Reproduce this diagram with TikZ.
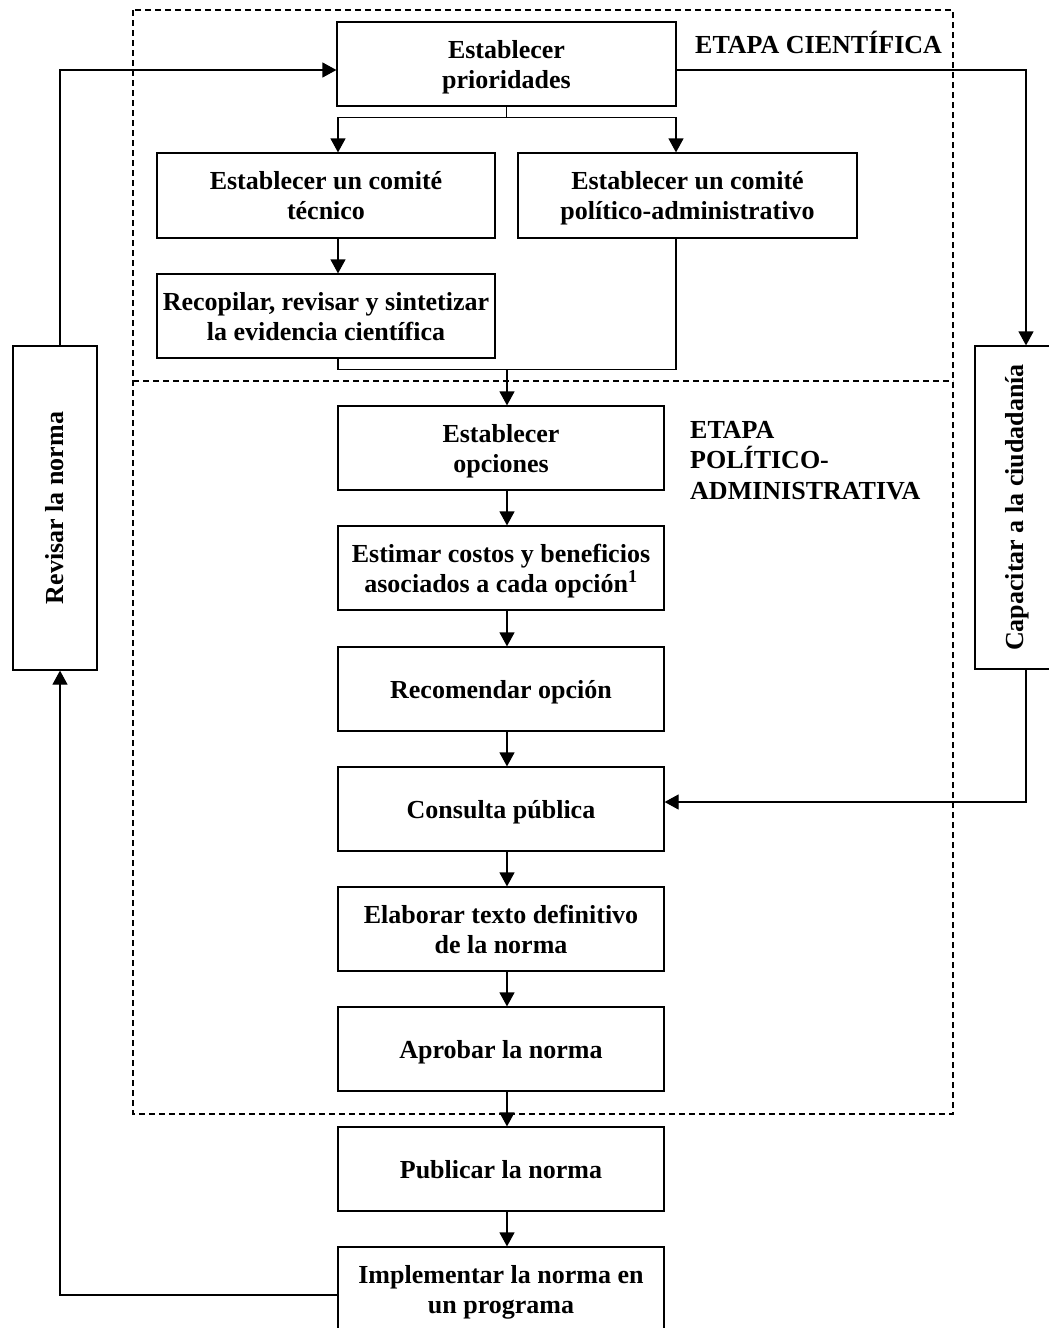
\documentclass[tikz,border=0pt]{standalone}
\usepackage{fontspec}
\setmainfont{Liberation Serif}
\usetikzlibrary{arrows.meta}
\newcommand{\hst}{\rule{0pt}{27pt}}
\newcommand{\dst}{\rule[-9pt]{0pt}{0pt}}
\begin{document}
\begin{tikzpicture}[x=1pt,y=-1pt,
  box/.style={draw, line width=1.2pt, inner sep=0pt, align=center,
    font=\fontsize{26}{30}\selectfont\bfseries},
  tbox/.style={box},
  colbox/.style={tbox, minimum width=326pt, minimum height=84pt},
  lbl/.style={inner sep=0pt, align=left, font=\fontsize{26}{30.5}\selectfont\bfseries},
  conn/.style={line width=1.2pt},
  arr/.style={conn, -{Triangle[length=14pt,width=15pt]}},
  frame/.style={line width=1.6pt, dash pattern=on 6pt off 4pt}]
\useasboundingbox (0,0) rectangle (1049,1328);
% dashed stage frames
\draw[frame] (133,10) rectangle (953,1114);
\draw[frame] (133,381) -- (953,381);
% labels
\node[lbl, anchor=base west] (tcien) at (695,53) {ETAPA CIENTÍFICA};
\node[lbl, anchor=north west] (tpol) at (690,421) {ETAPA\\POLÍTICO-\\ADMINISTRATIVA};
% top boxes
\node[tbox, minimum width=339pt, minimum height=84pt] (A) at (506.5,64) {\hst Establecer\\prioridades\dst};
\node[tbox, minimum width=338pt, minimum height=85pt] (tec) at (326,195.5) {\hst Establecer un comité\\técnico\dst};
\node[tbox, minimum width=339pt, minimum height=85pt] (pol) at (687.5,195.5) {\hst Establecer un comité\\político-administrativo\dst};
\node[tbox, minimum width=338pt, minimum height=84pt] (rec) at (326,316) {\hst Recopilar, revisar y sintetizar\\la evidencia científica\dst};
% main column
\node[colbox] (opc) at (501,448) {\hst Establecer\\opciones\dst};
\node[colbox] (est) at (501,568) {\hst Estimar costos y beneficios\\asociados a cada opción\textsuperscript{1}\dst};
\node[colbox] (recm) at (501,689) {\hst Recomendar opción\dst};
\node[colbox] (cons) at (501,809) {\hst Consulta pública\dst};
\node[colbox] (elab) at (501,929) {\hst Elaborar texto definitivo\\de la norma\dst};
\node[colbox] (apro) at (501,1049) {\hst Aprobar la norma\dst};
\node[colbox] (pub) at (501,1169) {\hst Publicar la norma\dst};
\node[colbox] (impl) at (501,1289) {\hst Implementar la norma en\\un programa\dst};
% side boxes
\node[box, minimum width=84pt, minimum height=324pt] (rev) at (55,508) {\rotatebox{90}{Revisar la norma}};
\node[box, minimum width=84pt, minimum height=323pt] (cap) at (1017,507.5) {\rotatebox{90}{Capacitar a la ciudadanía}};
% connectors, top
\draw[conn] (A.south) -- ++(0,11) coordinate (split);
\draw[arr] (split) -| ([xshift=12pt]tec.north);
\draw[arr] (split) -| ([xshift=-11.5pt]pol.north);
\draw[arr] ([xshift=12pt]tec.south) -- ([xshift=12pt]rec.north);
\draw[conn] ([xshift=12pt]rec.south) -- ++(0,11) coordinate (merge) -| ([xshift=-11.5pt]pol.south);
\draw[arr] ([xshift=6pt]opc.north |- merge) -- ([xshift=6pt]opc.north);
% main chain
\foreach \a/\b in {opc/est, est/recm, recm/cons, cons/elab, elab/apro, apro/pub, pub/impl}
  \draw[arr] ([xshift=6pt]\a.south) -- ([xshift=6pt]\b.north);
% feedback loops
\draw[arr] ([xshift=5pt]rev.north) |- ([yshift=-6pt]A.west);
\draw[arr] ([yshift=-6pt]A.east) -| ([xshift=9pt]cap.north);
\draw[arr] ([xshift=9pt]cap.south) |- ([yshift=7pt]cons.east);
\draw[arr] ([yshift=-6pt]impl.west) -| ([xshift=5pt]rev.south);
\end{tikzpicture}
\end{document}
